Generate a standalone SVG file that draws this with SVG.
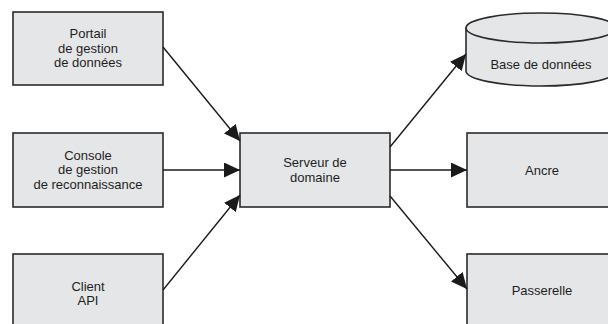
<svg xmlns="http://www.w3.org/2000/svg" width="608" height="324" viewBox="0 0 608 324">
  <style>
    .box { fill: #e5e6e7; stroke: #2b2b2b; stroke-width: 1.6; }
    .lbl { font-family: "Liberation Sans", Arial, sans-serif; font-size: 13px; fill: #1e1e1e; text-anchor: middle; }
    .edge { fill: none; stroke: #1a1a1a; stroke-width: 1.4; }
  </style>
  <defs>
    <marker id="head" markerUnits="userSpaceOnUse" markerWidth="17" markerHeight="15" refX="16" refY="7.5" orient="auto">
      <path d="M0,0 L16,7.5 L0,15 Z" fill="#1a1a1a"/>
    </marker>
  </defs>
  <rect width="608" height="324" fill="#ffffff"/>

  <g id="portail">
    <rect class="box" x="13" y="12" width="150" height="73"/>
    <text class="lbl" x="88" y="38">Portail</text>
    <text class="lbl" x="88" y="52.5">de gestion</text>
    <text class="lbl" x="88" y="67">de données</text>
  </g>

  <g id="console">
    <rect class="box" x="13" y="133" width="150" height="74"/>
    <text class="lbl" x="88" y="159.5">Console</text>
    <text class="lbl" x="88" y="174">de gestion</text>
    <text class="lbl" x="88" y="188.5">de reconnaissance</text>
  </g>

  <g id="client">
    <rect class="box" x="13" y="254" width="150" height="74"/>
    <text class="lbl" x="88" y="290.5">Client</text>
    <text class="lbl" x="88" y="305">API</text>
  </g>

  <g id="serveur">
    <rect class="box" x="240" y="133" width="150" height="74"/>
    <text class="lbl" x="315" y="167">Serveur de</text>
    <text class="lbl" x="315" y="182">domaine</text>
  </g>

  <g id="base">
    <path class="box" d="M466,28 L466,71 A75,15 0 0 0 616,71 L616,28 Z"/>
    <ellipse class="box" cx="541" cy="28" rx="75" ry="15"/>
    <text class="lbl" x="541" y="68.5">Base de données</text>
  </g>

  <g id="ancre">
    <rect class="box" x="467" y="133" width="150" height="74"/>
    <text class="lbl" x="542" y="174.5">Ancre</text>
  </g>

  <g id="passerelle">
    <rect class="box" x="467" y="254" width="150" height="74"/>
    <text class="lbl" x="542" y="295">Passerelle</text>
  </g>

  <g id="connectors">
    <line class="edge" x1="163" y1="47" x2="240" y2="141" marker-end="url(#head)"/>
    <line class="edge" x1="163" y1="170" x2="240" y2="170" marker-end="url(#head)"/>
    <line class="edge" x1="163" y1="290" x2="240" y2="195" marker-end="url(#head)"/>
    <line class="edge" x1="390" y1="147" x2="466" y2="54" marker-end="url(#head)"/>
    <line class="edge" x1="390" y1="170" x2="467" y2="170" marker-end="url(#head)"/>
    <line class="edge" x1="390" y1="196" x2="467" y2="289" marker-end="url(#head)"/>
  </g>
</svg>
